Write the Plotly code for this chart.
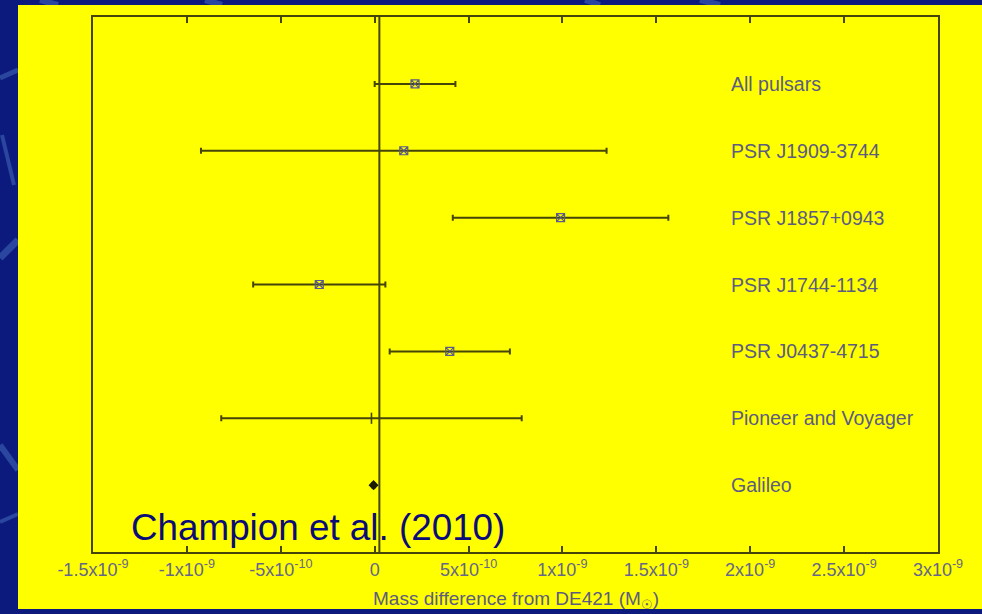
import plotly.graph_objects as go

# Jupiter-system mass offsets relative to DE421, in solar masses
categories = ["All pulsars", "PSR J1909-3744", "PSR J1857+0943", "PSR J1744-1134",
              "PSR J0437-4715", "Pioneer and Voyager", "Galileo"]
mass_diff = [0.215e-9, 0.155e-9, 0.99e-9, -0.295e-9, 0.40e-9, -0.017e-9, -0.006e-9]
mass_err = [0.215e-9, 1.08e-9, 0.574e-9, 0.352e-9, 0.32e-9, 0.80e-9, 0.008e-9]

tick_vals = [-1.5e-9, -1.0e-9, -0.5e-9, 0.0, 0.5e-9, 1.0e-9, 1.5e-9, 2.0e-9, 2.5e-9, 3.0e-9]
tick_text = ["-1.5x10<sup>-9</sup>", "-1x10<sup>-9</sup>", "-5x10<sup>-10</sup>", "0",
             "5x10<sup>-10</sup>", "1x10<sup>-9</sup>", "1.5x10<sup>-9</sup>",
             "2x10<sup>-9</sup>", "2.5x10<sup>-9</sup>", "3x10<sup>-9</sup>"]

ref_line_x = 0.025e-9
label_x = 1.885e-9

W, H = 982, 614
L, R, T, B = 93, 44, 17, 62
PW, PH = W - L - R, H - T - B


def px(x):
    return (x - L) / PW


def py(y):
    return (H - B - y) / PH


line_col = "#45450a"
text_col = "#5c5c80"
tick_col = "#66668a"
font_family = "Liberation Sans, Arial, sans-serif"

fig = go.Figure()

# pulsar timing and spacecraft estimates with 1-sigma bars
symbols = ["square-x-open"] * 5 + ["line-ns", "diamond"]
mcolors = ["#5a5a8c"] * 5 + [line_col, "#1c1c00"]
msizes = [8] * 5 + [8, 6]
mwidths = [1.2] * 5 + [1.6, 1.6]
for i, name in enumerate(categories):
    fig.add_trace(go.Scatter(
        x=[mass_diff[i]], y=[name], mode="markers",
        marker=dict(symbol=symbols[i], size=msizes[i], color=mcolors[i],
                    line=dict(color=mcolors[i], width=mwidths[i])),
        error_x=dict(type="data", array=[mass_err[i]], color=line_col,
                     thickness=2, width=3),
        showlegend=False, hoverinfo="skip",
    ))

# row labels on the right side of the panel
for name in categories:
    fig.add_annotation(x=label_x, y=name, xref="x", yref="y", text=name,
                       showarrow=False, xanchor="left", yanchor="middle",
                       font=dict(family=font_family, size=19.5, color=text_col))

shapes = []
# slide backdrop streaks
streaks = [
    (0, 258, 18, 240, 7), (0, 78, 18, 70, 5), (0, 445, 18, 470, 6),
    (0, 522, 18, 514, 4), (40, 0, 58, 5, 6), (205, 0, 222, 5, 6),
    (585, 0, 600, 5, 6), (700, 0, 720, 5, 6), (2, 135, 14, 185, 4),
]
for x0, y0, x1, y1, w in streaks:
    shapes.append(dict(type="line", xref="paper", yref="paper",
                       x0=px(x0), y0=py(y0), x1=px(x1), y1=py(y1),
                       line=dict(color="rgba(80,125,200,0.45)", width=w),
                       layer="below"))
# yellow figure panel
shapes.append(dict(type="rect", xref="paper", yref="paper",
                   x0=px(18), x1=px(982), y0=py(609), y1=py(5),
                   fillcolor="#ffff00", line=dict(width=0), layer="below"))
# vertical reference line
shapes.append(dict(type="line", xref="x", yref="paper", x0=ref_line_x, x1=ref_line_x,
                   y0=0, y1=1, line=dict(color=line_col, width=2), layer="below"))
fig.update_layout(shapes=shapes)

fig.add_annotation(x=px(129), y=py(527), xref="paper", yref="paper",
                   text="Champion et al. (2010)", showarrow=False,
                   xanchor="left", yanchor="middle",
                   font=dict(family=font_family, size=36.8, color="#0c0c78"))

fig.add_annotation(x=0.5, y=py(600), xref="paper", yref="paper",
                   text="Mass difference from DE421 (M<sub>☉</sub>)", showarrow=False,
                   xanchor="center", yanchor="middle",
                   font=dict(family=font_family, size=19, color=text_col))

fig.update_xaxes(range=[-1.5e-9, 3.0e-9], tickvals=tick_vals, ticktext=tick_text,
                 showline=True, mirror="ticks", linecolor=line_col, linewidth=2,
                 ticks="inside", ticklen=6, tickwidth=1.5, tickcolor=line_col,
                 showgrid=False, zeroline=False,
                 tickfont=dict(family=font_family, size=18, color=tick_col))
fig.update_yaxes(type="category", categoryorder="array", categoryarray=categories,
                 range=[7, -1], showline=True, mirror=True, linecolor=line_col,
                 linewidth=2, ticks="", showticklabels=False, showgrid=False,
                 zeroline=False)

fig.update_layout(width=W, height=H, margin=dict(l=L, r=R, t=T, b=B),
                  paper_bgcolor="#0b1a7c", plot_bgcolor="rgba(0,0,0,0)")

fig.write_html("out.html")
